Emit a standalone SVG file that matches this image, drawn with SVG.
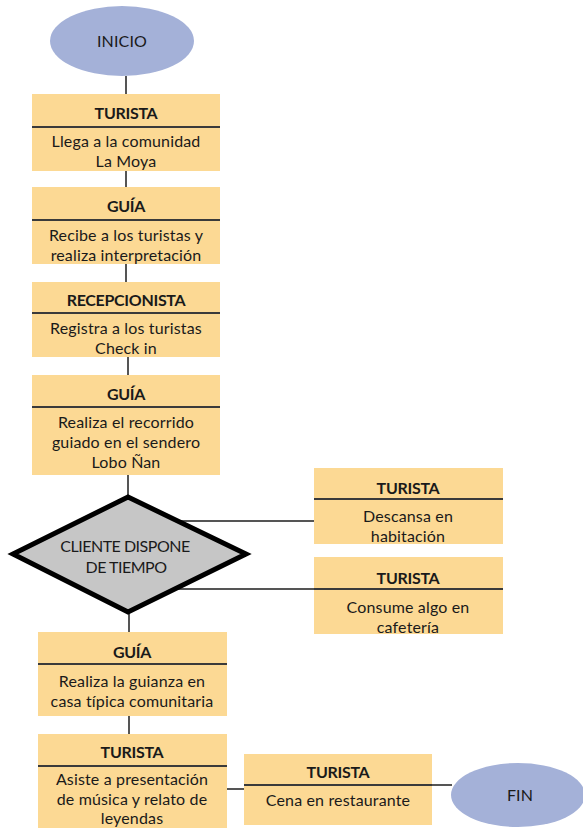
<svg xmlns="http://www.w3.org/2000/svg" width="583" height="828" viewBox="0 0 583 828">
<style>
.box{fill:#fcd994;}
.div{stroke:#3a3a3a;stroke-width:2;}
.con{stroke:#555;stroke-width:2;fill:none;}
.term{fill:#a4b1d8;}
text{font-family:Lato,"Open Sans","Liberation Sans",sans-serif;fill:#1a1a1a;text-anchor:middle;dominant-baseline:central;}
.h{font-size:16px;font-weight:700;letter-spacing:-0.3px;}
.b{font-size:16px;letter-spacing:0.15px;}
.d{font-size:16px;letter-spacing:-0.5px;}
</style>
<rect width="583" height="828" fill="#fff"/>
<g id="connectors">
<line class="con" x1="126" y1="76" x2="126" y2="94"/>
<line class="con" x1="126" y1="171" x2="126" y2="187"/>
<line class="con" x1="126" y1="264" x2="126" y2="282"/>
<line class="con" x1="128" y1="357" x2="128" y2="375"/>
<line class="con" x1="128" y1="475" x2="128" y2="497"/>
<line class="con" x1="150" y1="521" x2="315" y2="521"/>
<line class="con" x1="150" y1="589" x2="315" y2="589"/>
<line class="con" x1="129" y1="612" x2="129" y2="632"/>
<line class="con" x1="129" y1="716" x2="129" y2="734"/>
<line class="con" x1="227" y1="789" x2="244" y2="789"/>
<line class="con" x1="432" y1="785" x2="452" y2="785"/>
</g>
<g id="inicio">
<ellipse class="term" cx="122" cy="41" rx="72" ry="35"/>
<text class="b" x="122" y="40">INICIO</text>
</g>
<g id="n1">
<rect class="box" x="32" y="94" width="188" height="77"/>
<line class="div" x1="32" y1="127" x2="220" y2="127"/>
<text class="h" x="126" y="112">TURISTA</text>
<text class="b" x="126" y="140">Llega a la comunidad</text>
<text class="b" x="126" y="160">La Moya</text>
</g>
<g id="n2">
<rect class="box" x="32" y="187" width="188" height="77"/>
<line class="div" x1="32" y1="220" x2="220" y2="220"/>
<text class="h" x="126" y="205">GUÍA</text>
<text class="b" x="126" y="234">Recibe a los turistas y</text>
<text class="b" x="126" y="254">realiza interpretación</text>
</g>
<g id="n3">
<rect class="box" x="32" y="282" width="188" height="75"/>
<line class="div" x1="32" y1="313" x2="220" y2="313"/>
<text class="h" x="126" y="299">RECEPCIONISTA</text>
<text class="b" x="126" y="327">Registra a los turistas</text>
<text class="b" x="126" y="347">Check in</text>
</g>
<g id="n4">
<rect class="box" x="32" y="375" width="188" height="100"/>
<line class="div" x1="32" y1="407" x2="220" y2="407"/>
<text class="h" x="126" y="393">GUÍA</text>
<text class="b" x="126" y="421">Realiza el recorrido</text>
<text class="b" x="126" y="441">guiado en el sendero</text>
<text class="b" x="126" y="461">Lobo Ñan</text>
</g>
<g id="decision">
<polygon points="128,497 246,554 128,612 13,554" fill="#c6c6c6" stroke="#000" stroke-width="5" stroke-linejoin="miter"/>
<text class="d" x="125" y="545">CLIENTE DISPONE</text>
<text class="d" x="126" y="566">DE TIEMPO</text>
</g>
<g id="n5">
<rect class="box" x="314" y="468" width="189" height="76"/>
<line class="div" x1="314" y1="499" x2="503" y2="499"/>
<text class="h" x="408" y="487">TURISTA</text>
<text class="b" x="408" y="515">Descansa en</text>
<text class="b" x="408" y="535">habitación</text>
</g>
<g id="n6">
<rect class="box" x="314" y="557" width="189" height="77"/>
<line class="div" x1="314" y1="589" x2="503" y2="589"/>
<text class="h" x="408" y="577">TURISTA</text>
<text class="b" x="408" y="606">Consume algo en</text>
<text class="b" x="408" y="626">cafetería</text>
</g>
<g id="n7">
<rect class="box" x="38" y="632" width="189" height="84"/>
<line class="div" x1="38" y1="664" x2="227" y2="664"/>
<text class="h" x="132" y="651">GUÍA</text>
<text class="b" x="132" y="680">Realiza la guianza en</text>
<text class="b" x="132" y="700">casa típica comunitaria</text>
</g>
<g id="n8">
<rect class="box" x="38" y="734" width="189" height="94"/>
<line class="div" x1="38" y1="766" x2="227" y2="766"/>
<text class="h" x="132" y="751">TURISTA</text>
<text class="b" x="132" y="778">Asiste a presentación</text>
<text class="b" x="132" y="798">de música y relato de</text>
<text class="b" x="132" y="817">leyendas</text>
</g>
<g id="n9">
<rect class="box" x="244" y="754" width="188" height="71"/>
<line class="div" x1="244" y1="785" x2="432" y2="785"/>
<text class="h" x="338" y="771">TURISTA</text>
<text class="b" x="338" y="799">Cena en restaurante</text>
</g>
<g id="fin">
<ellipse class="term" cx="518" cy="795" rx="67" ry="32"/>
<text class="b" x="520" y="794">FIN</text>
</g>
</svg>
